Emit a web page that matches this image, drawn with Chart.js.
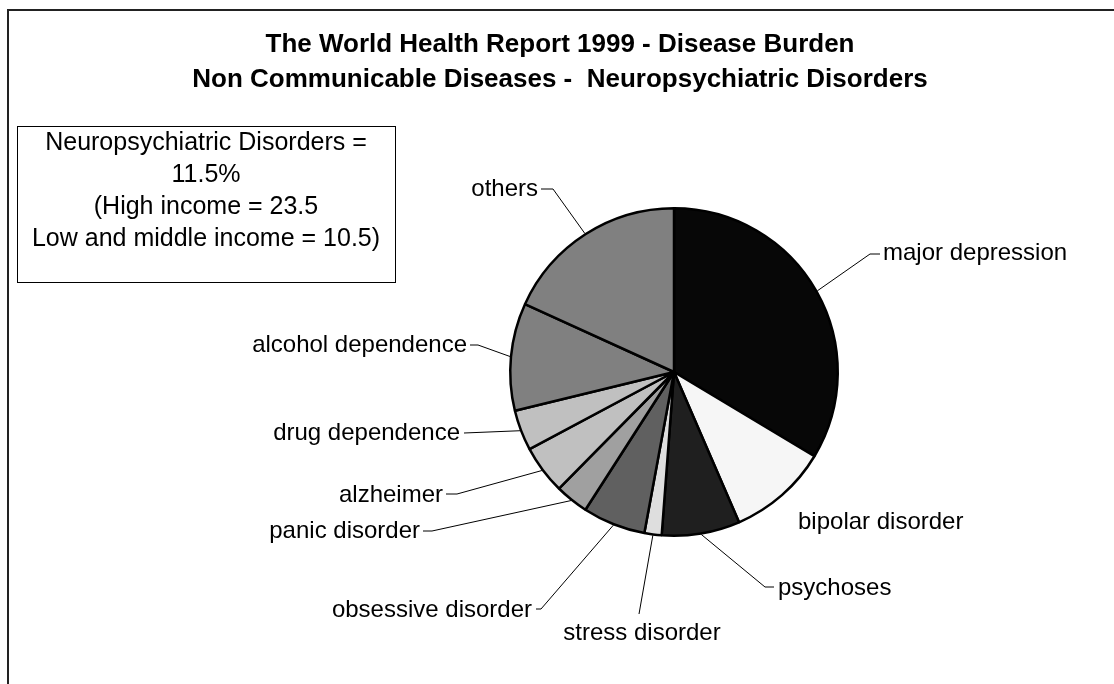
<!DOCTYPE html>
<html>
<head>
<meta charset="utf-8">
<script src="https://cdn.jsdelivr.net/npm/chart.js@4.4.1/dist/chart.umd.min.js"></script>
<style>
  html, body { margin: 0; padding: 0; background: #fff; }
  #wrap { width: 1114px; height: 684px; position: relative; }
</style>
</head>
<body>
<div id="wrap"><canvas id="myChart" width="1114" height="684"></canvas></div>
<script>
// slices, clockwise from 12 o'clock (% of neuropsychiatric burden)
const categories = [
    'major depression',
    'bipolar disorder',
    'psychoses',
    'stress disorder',
    'obsessive disorder',
    'panic disorder',
    'alzheimer',
    'drug dependence',
    'alcohol dependence',
    'others'
];
const shares = [33.6, 9.9, 7.7, 1.7, 6.2, 3.3, 4.8, 4.0, 10.6, 18.2];
const sliceColors = ['#070707', '#f6f6f6', '#1f1f1f', '#dedede', '#606060',
                     '#a0a0a0', '#c0c0c0', '#c0c0c0', '#808080', '#808080'];

const titleLines = [
    'The World Health Report 1999 - Disease Burden',
    'Non Communicable Diseases -  Neuropsychiatric Disorders'
];
const noteLines = [
    'Neuropsychiatric Disorders =',
    '11.5%',
    '(High income = 23.5',
    'Low and middle income = 10.5)'
];

// label placement, offsets from the pie centre
const labelSpots = [
    {tx: 209, ty: -119, align: 'left', end: [206, -118], elbow: [196, -118]},
    {tx: 124, ty: 150, align: 'left'},
    {tx: 104, ty: 216, align: 'left', end: [100, 215], elbow: [91, 215]},
    {tx: -32, ty: 261, align: 'center', end: [-35, 242]},
    {tx: -142, ty: 238, align: 'right', end: [-138, 237], elbow: [-133, 237]},
    {tx: -254, ty: 159, align: 'right', end: [-251, 159], elbow: [-242, 159]},
    {tx: -231, ty: 123, align: 'right', end: [-228, 122], elbow: [-217, 122]},
    {tx: -214, ty: 61, align: 'right', end: [-210, 61]},
    {tx: -207, ty: -27, align: 'right', end: [-204, -27], elbow: [-196, -27]},
    {tx: -136, ty: -183, align: 'right', end: [-133, -183], elbow: [-121, -183]}
];

const fontFam = '"Liberation Sans", Arial, Helvetica, sans-serif';

const frameAndText = {
    id: 'frameAndText',
    beforeDraw(chart) {
        const c = chart.ctx;
        c.save();
        c.fillStyle = '#fff';
        c.fillRect(0, 0, chart.width, chart.height);
        c.strokeStyle = '#222';
        c.lineWidth = 2;
        c.beginPath();
        c.moveTo(8, chart.height);
        c.lineTo(8, 10);
        c.lineTo(chart.width, 10);
        c.stroke();
        c.restore();
    },
    afterDraw(chart) {
        const c = chart.ctx;
        c.save();
        c.fillStyle = '#000';
        c.textBaseline = 'middle';

        // title
        c.font = 'bold 26px ' + fontFam;
        c.textAlign = 'center';
        c.fillText(titleLines[0], 560, 45);
        c.fillText(titleLines[1], 560, 80);

        // note box
        c.strokeStyle = '#000';
        c.lineWidth = 1;
        c.strokeRect(17.5, 126.5, 378, 156);
        c.font = '25px ' + fontFam;
        noteLines.forEach(function(t, i) {
            c.fillText(t, 206, 143 + i * 32);
        });

        // slice labels and leader lines
        const meta = chart.getDatasetMeta(0);
        c.font = '24px ' + fontFam;
        c.lineWidth = 1;
        meta.data.forEach(function(arc, i) {
            const s = labelSpots[i];
            const cx = arc.x, cy = arc.y;
            if (s.end) {
                const mid = (arc.startAngle + arc.endAngle) / 2;
                const r = arc.outerRadius + 1;
                c.beginPath();
                c.moveTo(cx + Math.cos(mid) * r, cy + Math.sin(mid) * r);
                if (s.elbow) c.lineTo(cx + s.elbow[0], cy + s.elbow[1]);
                c.lineTo(cx + s.end[0], cy + s.end[1]);
                c.stroke();
            }
            c.textAlign = s.align;
            c.fillText(chart.data.labels[i], cx + s.tx, cy + s.ty);
        });
        c.restore();
    }
};

const ctx = document.getElementById('myChart').getContext('2d');
const config = {
    type: 'pie',
    data: {
        labels: categories,
        datasets: [{
            data: shares,
            backgroundColor: sliceColors,
            borderColor: '#000',
            borderWidth: 2.5
        }]
    },
    options: {
        responsive: false,
        animation: false,
        layout: {
            padding: {left: 509, right: 275, top: 207, bottom: 147}
        },
        plugins: {
            legend: { display: false },
            tooltip: { enabled: false },
            title: { display: false }
        }
    },
    plugins: [frameAndText]
};
const myChart = new Chart(ctx, config);
</script>
</body>
</html>
